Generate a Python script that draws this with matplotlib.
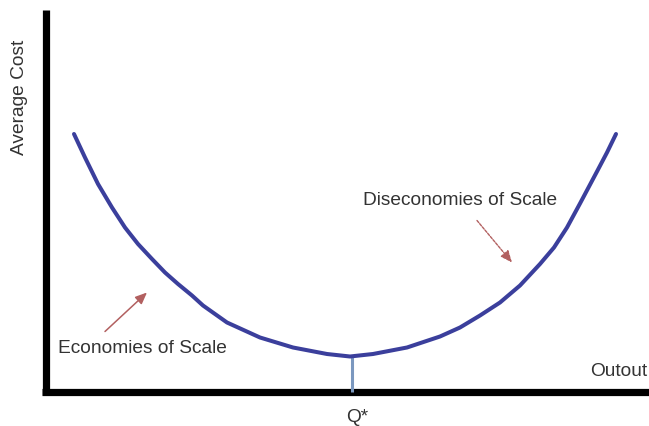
import matplotlib
matplotlib.use("Agg")
import matplotlib.pyplot as plt

plt.rcParams['font.family'] = ['Liberation Sans', 'DejaVu Sans']

# Average cost curve (output, cost)
output = [28, 39, 52, 66, 79, 92, 106, 119, 132, 146, 157, 181, 214, 247, 281, 304,
          327, 361, 394, 414, 434, 454, 474, 494, 508, 521, 534, 551, 561, 570]
cost = [257.5, 234, 207.5, 184, 164, 147.5, 132.5, 119, 107.5, 96, 86, 69, 54, 44, 37.5, 35,
        37.5, 44, 55, 64, 76, 89, 106, 127.5, 144, 164, 188, 220, 239, 257.5]

q_star = 306
q_star_cost = 35

labels = {
    "y": "Average Cost",
    "x": "Outout",
    "q": "Q*",
    "eos": "Economies of Scale",
    "dis": "Diseconomies of Scale",
}

fig = plt.figure(figsize=(6.49, 4.27), dpi=100)
ax = fig.add_axes([0, 0, 1, 1])
ax.set_xlim(-46, 603)
ax.set_ylim(-34.5, 392.5)
ax.axis('off')

# axes lines
ax.plot([0, 0], [-3.5, 381.5], color='black', lw=5.2, solid_capstyle='butt')
ax.plot([-4, 610], [0, 0], color='black', lw=5.2, solid_capstyle='butt')

# Q* drop line
ax.plot([q_star, q_star], [0, q_star_cost], color='#7b98bf', lw=2.2, solid_capstyle='butt')

# curve
ax.plot(output, cost, color='#3b3f9c', lw=2.9, solid_capstyle='round', solid_joinstyle='round')

# arrows
ax.annotate('', xy=(101, 99), xytext=(59, 60),
            arrowprops=dict(arrowstyle='-|>,head_length=0.7,head_width=0.3',
                            color='#b26060', lw=1.1, shrinkA=0, shrinkB=0))
ax.annotate('', xy=(466, 129), xytext=(431, 171),
            arrowprops=dict(arrowstyle='-|>,head_length=0.7,head_width=0.3',
                            color='#b26060', lw=1.0, ls=(0, (2, 1)), shrinkA=0, shrinkB=0))

tc = '#333333'
fs = 13.8
ax.text(12, 43.5, labels["eos"], fontsize=fs, color=tc, ha='left', va='center')
ax.text(317, 191.5, labels["dis"], fontsize=fs, color=tc, ha='left', va='center')
ax.text(-26, 295.5, labels["y"], fontsize=fs, color=tc, ha='center', va='center', rotation=90)
ax.text(544, 21, labels["x"], fontsize=fs, color=tc, ha='left', va='center')
ax.text(310.7, -25.5, labels["q"], fontsize=fs, color=tc, ha='center', va='center')

fig.savefig('out.png', dpi=100)
